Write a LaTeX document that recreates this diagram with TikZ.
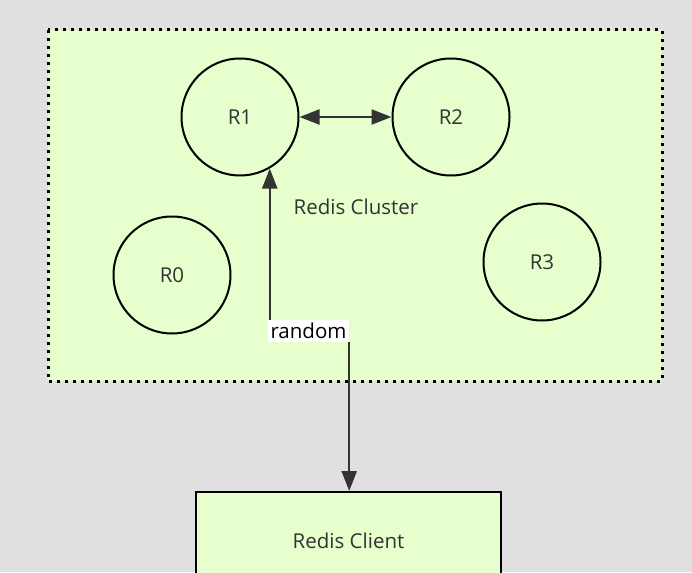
\documentclass[tikz,border=0pt]{standalone}
\usepackage{fontspec}
\setmainfont{Open Sans}
\usetikzlibrary{arrows.meta}
\definecolor{sfondo}{RGB}{224,224,224}
\definecolor{verdino}{RGB}{230,255,204}
\definecolor{scuro}{RGB}{51,51,51}
\tikzset{
    nodo/.style={draw, circle, line width=2pt, minimum size=117pt, inner sep=0pt, text=scuro},
    freccia/.style={line width=2.2pt, draw=scuro, -{Triangle[length=20pt,width=15pt]}},
    testo/.style={text=scuro, inner sep=0pt}
}
\begin{document}
\begin{tikzpicture}[x=1pt, y=-1pt, font=\fontsize{20.5}{24}\selectfont]
    %sfondo e bordo
    \fill[sfondo] (0,0) rectangle (692,572);
    \useasboundingbox (0,0) rectangle (692,572);
    %riquadro del cluster
    \draw[fill=verdino, line width=3pt, dash pattern=on 3pt off 5pt] (48,30) rectangle (662,381);
    
    %nodi redis
    \node[nodo] (R1) at (240,117) {R1};
    \node[nodo] (R2) at (451,117) {R2};
    \node[nodo] (R0) at (172,275) {R0};
    \node[nodo] (R3) at (542,262) {R3};
    \node[testo] (cluster) at (356,207) {Redis Cluster};
    
    %client
    \node[draw, fill=verdino, line width=2pt, minimum width=305pt, minimum height=98pt, text=scuro] (client) at (348.5,541) {Redis Client};
    
    %label random
    \node[fill=white, inner sep=0pt, minimum width=81pt, minimum height=22pt] (random) at (308.5,331) {random};
    
    %freccie
    \draw[freccia, {Triangle[length=20pt,width=15pt]}-{Triangle[length=20pt,width=15pt]}] (R1) -- (R2);
    \draw[freccia] (random.north west -| R1.-60) -- (R1.-60);
    \draw[freccia] (random.south east) -- (random.south east |- client.north);
    
\end{tikzpicture}
\end{document}
